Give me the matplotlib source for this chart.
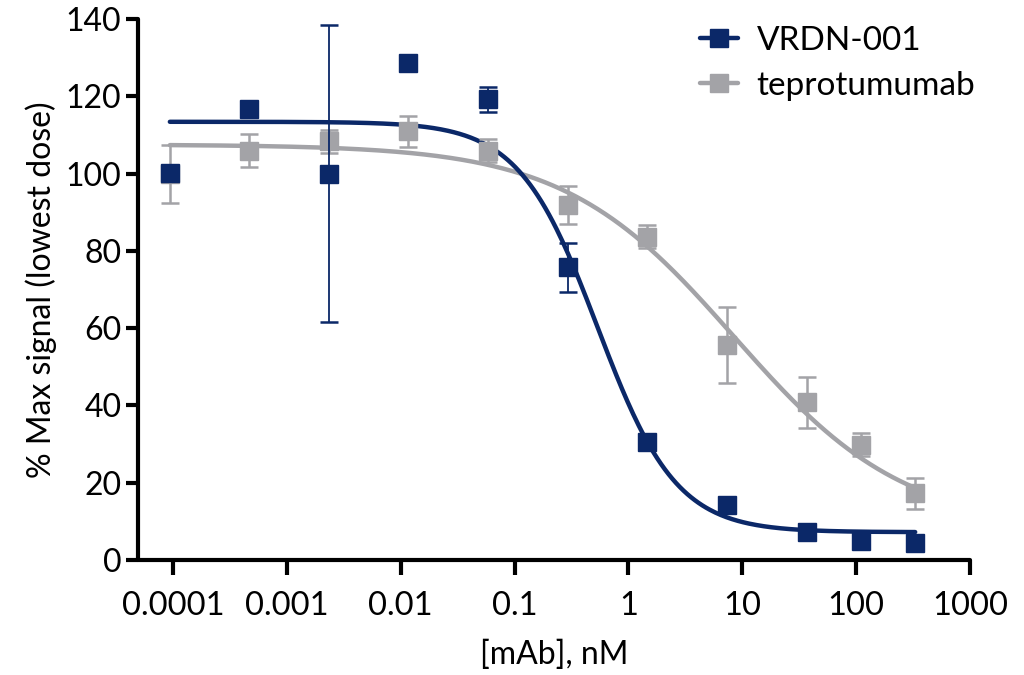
import numpy as np
import matplotlib
matplotlib.use("Agg")
import matplotlib.pyplot as plt

plt.rcParams['font.family'] = ['Lato', 'DejaVu Sans']

# ---- data ----
dose_nM = [0.0000939, 0.00047, 0.00235, 0.0117, 0.0587, 0.293, 1.47, 7.33, 36.7, 110, 330]

vrdn_mean = [100.1, 116.6, 100.0, 128.5, 119.2, 75.7, 30.6, 14.2, 7.2, 5.0, 4.5]
vrdn_err = [0, 0, 38.5, 0, 3.3, 6.3, 0, 0, 0, 0, 0]

tep_mean = [100.0, 105.9, 108.3, 111.0, 105.9, 91.9, 83.7, 55.6, 40.8, 29.8, 17.3]
tep_err = [7.5, 4.3, 3.0, 4.0, 3.0, 5.0, 3.0, 9.8, 6.6, 3.0, 4.0]

# 4-parameter logistic fit parameters (top, bottom, IC50 nM, hill)
vrdn_fit = dict(top=113.4, bottom=7.2, ic50=0.535, hill=1.255)
tep_fit = dict(top=107.5, bottom=8.0, ic50=8.5, hill=0.58)

series_names = ["VRDN-001", "teprotumumab"]
xtick_vals = [1e-4, 1e-3, 1e-2, 1e-1, 1, 10, 100, 1000]
xtick_labels = ["0.0001", "0.001", "0.01", "0.1", "1", "10", "100", "1000"]
ytick_vals = [0, 20, 40, 60, 80, 100, 120, 140]

NAVY = "#0b2868"
GRAY = "#a3a3a7"


def four_pl(x, top, bottom, ic50, hill):
    return bottom + (top - bottom) / (1 + (x / ic50) ** hill)


fig = plt.figure(figsize=(10.24, 6.75), dpi=100)
ax = fig.add_axes([138 / 1024, 1 - 560 / 675, (970 - 138) / 1024, (560 - 19) / 675])

xc = np.logspace(np.log10(dose_nM[0]), np.log10(dose_nM[-1]), 400)

ax.plot(xc, four_pl(xc, **tep_fit), color=GRAY, lw=3.2, solid_capstyle='round', zorder=2)
ax.plot(xc, four_pl(xc, **vrdn_fit), color=NAVY, lw=3.2, solid_capstyle='round', zorder=3)

ax.errorbar(dose_nM, tep_mean, yerr=tep_err, fmt='s', color=GRAY, ms=12.5,
            elinewidth=1.8, capsize=6.5, capthick=1.8, zorder=4)
ax.errorbar(dose_nM, vrdn_mean, yerr=vrdn_err, fmt='s', color=NAVY, ms=12.5,
            elinewidth=1.3, capsize=6.5, capthick=1.8, zorder=5)

# legend handles
h1, = ax.plot([], [], color=NAVY, lw=3.2, marker='s', ms=12.5, solid_capstyle='round')
h2, = ax.plot([], [], color=GRAY, lw=3.2, marker='s', ms=12.5, solid_capstyle='round')
leg = fig.legend([h1, h2], series_names, loc='upper left',
                 bbox_to_anchor=(690 / 1024, 1 - 16 / 675), frameon=False,
                 fontsize=24, handlelength=1.15, handletextpad=0.55, labelspacing=0.45,
                 borderaxespad=0, borderpad=0.3)

ax.set_xscale('log')
ax.set_xlim(4.93e-5, 1000)
ax.set_ylim(0, 140)
ax.set_xticks(xtick_vals)
ax.set_xticklabels(xtick_labels)
ax.minorticks_off()
ax.xaxis.set_minor_locator(matplotlib.ticker.NullLocator())
ax.set_yticks(ytick_vals)

for s in ['top', 'right']:
    ax.spines[s].set_visible(False)
for s in ['left', 'bottom']:
    ax.spines[s].set_linewidth(3)
    ax.spines[s].set_capstyle('round')

ax.tick_params(axis='x', length=11, width=3, labelsize=23.5, pad=11)
ax.tick_params(axis='y', length=9, width=3, labelsize=23, pad=3)

ax.set_xlabel("[mAb], nM", fontsize=23, labelpad=14)
ax.set_ylabel("% Max signal (lowest dose)", fontsize=23, labelpad=6)

fig.savefig("out.png", dpi=100)
